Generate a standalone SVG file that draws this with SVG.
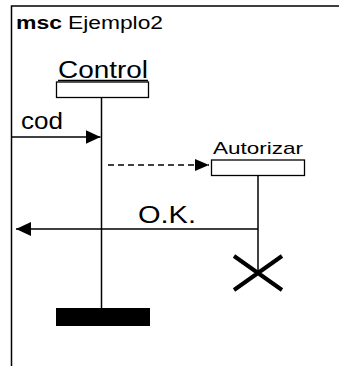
<svg xmlns="http://www.w3.org/2000/svg" width="339" height="366" viewBox="0 0 339 366">
<style>
text{font-family:"Liberation Sans",Arial,sans-serif;fill:#000}
.ln{stroke:#000;stroke-width:1.5;fill:none}
.box{fill:#fff;stroke:#000;stroke-width:1.3}
</style>
<defs>
<marker id="ah" markerWidth="15" markerHeight="14" refX="15" refY="7" orient="auto" markerUnits="userSpaceOnUse">
<path d="M0,0 L15,7 L0,14 Z" fill="#000"/>
</marker>
<marker id="ah2" markerWidth="14" markerHeight="12" refX="14" refY="6" orient="auto" markerUnits="userSpaceOnUse">
<path d="M0,0 L14,6 L0,12 Z" fill="#000"/>
</marker>
</defs>
<rect width="339" height="366" fill="#fff"/>
<g id="frame">
<path class="ln" d="M11.5,366 V6 H339"/>
<text x="16" y="29" font-size="18" font-weight="bold" textLength="46" lengthAdjust="spacingAndGlyphs">msc</text>
<text x="68" y="29" font-size="18" textLength="95" lengthAdjust="spacingAndGlyphs">Ejemplo2</text>
</g>
<g id="connectors">
<line class="ln" x1="101.5" y1="97" x2="101.5" y2="310"/>
<line class="ln" x1="258" y1="176" x2="258" y2="273"/>
<line class="ln" x1="11.5" y1="137" x2="100.5" y2="137" marker-end="url(#ah)"/>
<line class="ln" x1="108" y1="165" x2="209" y2="165" stroke-dasharray="6,4" marker-end="url(#ah2)"/>
<line class="ln" x1="258" y1="229" x2="16" y2="229" marker-end="url(#ah)"/>
<text x="21" y="129" font-size="24" textLength="42" lengthAdjust="spacingAndGlyphs">cod</text>
<text x="138" y="223" font-size="24" textLength="58" lengthAdjust="spacingAndGlyphs">O.K.</text>
</g>
<g id="control">
<text x="58" y="78" font-size="23" textLength="90" lengthAdjust="spacingAndGlyphs">Control</text>
<line x1="58" y1="80.5" x2="148" y2="80.5" stroke="#000" stroke-width="1.5"/>
<rect class="box" x="56.5" y="82" width="92" height="15.5"/>
<rect x="56" y="308" width="94" height="18" fill="#000"/>
</g>
<g id="autorizar">
<text x="213" y="154" font-size="17" textLength="90" lengthAdjust="spacingAndGlyphs">Autorizar</text>
<rect class="box" x="211.5" y="160" width="93" height="15.5"/>
<path d="M234,256 L282,290 M282,256 L234,290" stroke="#000" stroke-width="4" fill="none"/>
</g>
</svg>
